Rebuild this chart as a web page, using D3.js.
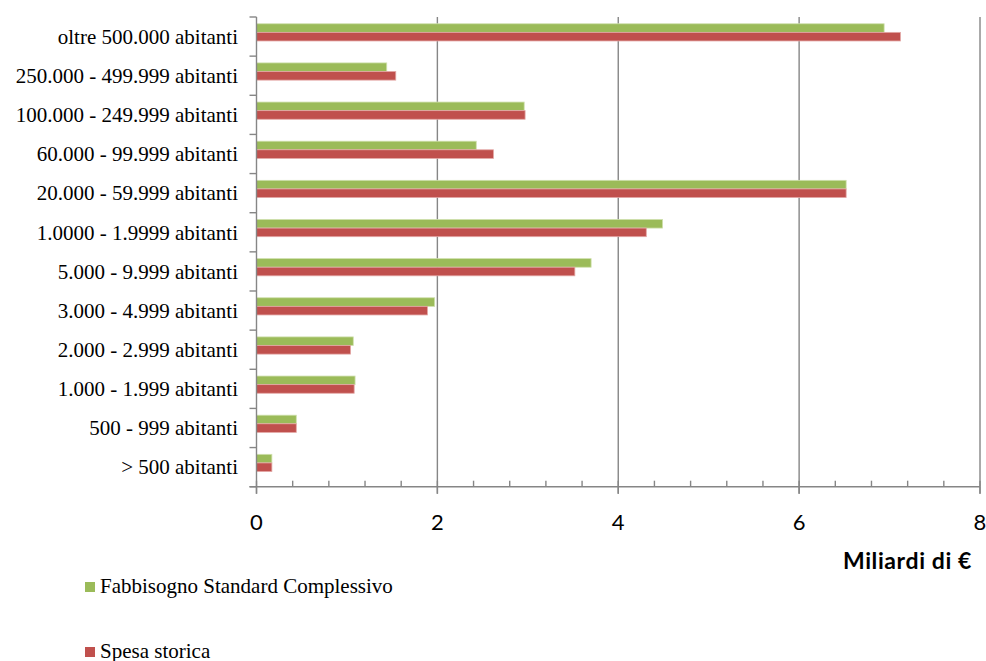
<!DOCTYPE html>
<html>
<head>
<meta charset="utf-8">
<script src="https://cdn.jsdelivr.net/npm/d3@7"></script>
<style>
  html, body { margin: 0; padding: 0; background: #fff; }
  svg { display: block; }
  .serif { font-family: "Liberation Serif", "DejaVu Serif", serif; }
  .sans { font-family: Lato, "Open Sans", sans-serif; }
</style>
</head>
<body>
<svg id="chart" width="986" height="661"></svg>
<script>
// Municipal size classes, top to bottom
const categories = [
  "oltre 500.000 abitanti",
  "250.000 - 499.999 abitanti",
  "100.000 - 249.999 abitanti",
  "60.000 - 99.999 abitanti",
  "20.000 - 59.999 abitanti",
  "1.0000 - 1.9999 abitanti",
  "5.000 - 9.999 abitanti",
  "3.000 - 4.999 abitanti",
  "2.000 - 2.999 abitanti",
  "1.000 - 1.999 abitanti",
  "500 - 999 abitanti",
  "> 500 abitanti"
];
// Billions of euro
const fabbisogno = [6.94, 1.44, 2.96, 2.43, 6.52, 4.49, 3.70, 1.97, 1.07, 1.09, 0.44, 0.17];
const spesa      = [7.12, 1.54, 2.97, 2.62, 6.52, 4.31, 3.52, 1.89, 1.04, 1.08, 0.44, 0.17];
const seriesNames = ["Fabbisogno Standard Complessivo", "Spesa storica"];
const xTicks = [0, 2, 4, 6, 8];
const xMinorTicks = d3.range(0, 8.001, 0.4);
const axisTitle = "Miliardi di €";

const colors = ["#9BBB59", "#C0504D"];
const edge = ["#cfe0ad", "#e3a7a5"];
const gridColor = "#868686";

const svg = d3.select("#chart");
const plot = { left: 256.5, right: 980, top: 17, bottom: 486.7 };

const x = d3.scaleLinear().domain([0, 8]).range([plot.left, plot.right]);
const y = d3.scaleBand().domain(categories).range([plot.top, plot.bottom]);
const barH = 8.6;
const pairShift = -4.2;

// vertical gridlines at major ticks
svg.append("g").selectAll("line").data(xTicks.filter(d => d > 0)).join("line")
  .attr("x1", d => x(d)).attr("x2", d => x(d))
  .attr("y1", plot.top).attr("y2", plot.bottom + 7)
  .attr("stroke", gridColor).attr("stroke-width", 1.4);

// bars
const data = categories.map((c, i) => ({ c, v: [fabbisogno[i], spesa[i]] }));
const groups = svg.append("g").selectAll("g").data(data).join("g")
  .attr("transform", d => `translate(0,${y(d.c) + (y.bandwidth() - 2 * barH) / 2 + pairShift})`);
groups.selectAll("rect").data(d => d.v).join("rect")
  .attr("x", x(0))
  .attr("y", (d, i) => i * barH)
  .attr("width", d => x(d) - x(0))
  .attr("height", barH)
  .attr("fill", (d, i) => colors[i])
  .attr("stroke", (d, i) => edge[i])
  .attr("stroke-width", 0.8);

// y axis line and category ticks
const yAxis = svg.append("g");
yAxis.append("line")
  .attr("x1", plot.left).attr("x2", plot.left)
  .attr("y1", plot.top).attr("y2", plot.bottom + 7)
  .attr("stroke", gridColor).attr("stroke-width", 1.4);
const catEdges = categories.map(c => y(c)).concat([plot.bottom]);
yAxis.selectAll("line.tick").data(catEdges).join("line").attr("class", "tick")
  .attr("x1", plot.left - 7).attr("x2", plot.left)
  .attr("y1", d => d).attr("y2", d => d)
  .attr("stroke", gridColor).attr("stroke-width", 1.4);
yAxis.selectAll("text").data(categories).join("text")
  .attr("class", "serif")
  .attr("x", 238)
  .attr("y", d => y(d) + y.bandwidth() / 2)
  .attr("dy", "0.35em")
  .attr("text-anchor", "end")
  .attr("font-size", 21)
  .attr("fill", "#000")
  .text(d => d);

// x axis line, minor ticks (inside), major ticks (outside)
const xAxis = svg.append("g");
xAxis.append("line")
  .attr("x1", plot.left - 7).attr("x2", plot.right)
  .attr("y1", plot.bottom).attr("y2", plot.bottom)
  .attr("stroke", gridColor).attr("stroke-width", 1.4);
xAxis.selectAll("line.minor").data(xMinorTicks).join("line").attr("class", "minor")
  .attr("x1", d => x(d)).attr("x2", d => x(d))
  .attr("y1", plot.bottom - 6).attr("y2", plot.bottom)
  .attr("stroke", gridColor).attr("stroke-width", 1.4);
xAxis.selectAll("line.major").data(xTicks).join("line").attr("class", "major")
  .attr("x1", d => x(d)).attr("x2", d => x(d))
  .attr("y1", plot.bottom).attr("y2", plot.bottom + 7)
  .attr("stroke", gridColor).attr("stroke-width", 1.4);
xAxis.selectAll("text").data(xTicks).join("text")
  .attr("class", "sans")
  .attr("x", d => x(d))
  .attr("y", 530)
  .attr("text-anchor", "middle")
  .attr("font-size", 22)
  .attr("fill", "#000")
  .text(d => d);

svg.append("text")
  .attr("class", "sans")
  .attr("x", 972).attr("y", 569)
  .attr("text-anchor", "end")
  .attr("font-weight", "bold")
  .attr("font-size", 23)
  .attr("letter-spacing", 0.6)
  .attr("fill", "#000")
  .text(axisTitle);

// legend
const legend = svg.append("g").selectAll("g").data(seriesNames).join("g")
  .attr("transform", (d, i) => `translate(85,${582 + i * 65})`);
legend.append("rect")
  .attr("width", 10).attr("height", 10)
  .attr("fill", (d, i) => colors[i]);
legend.append("text")
  .attr("class", "serif")
  .attr("x", 15).attr("y", 10.5)
  .attr("font-size", 21)
  .attr("fill", "#000")
  .text(d => d);
</script>
</body>
</html>
